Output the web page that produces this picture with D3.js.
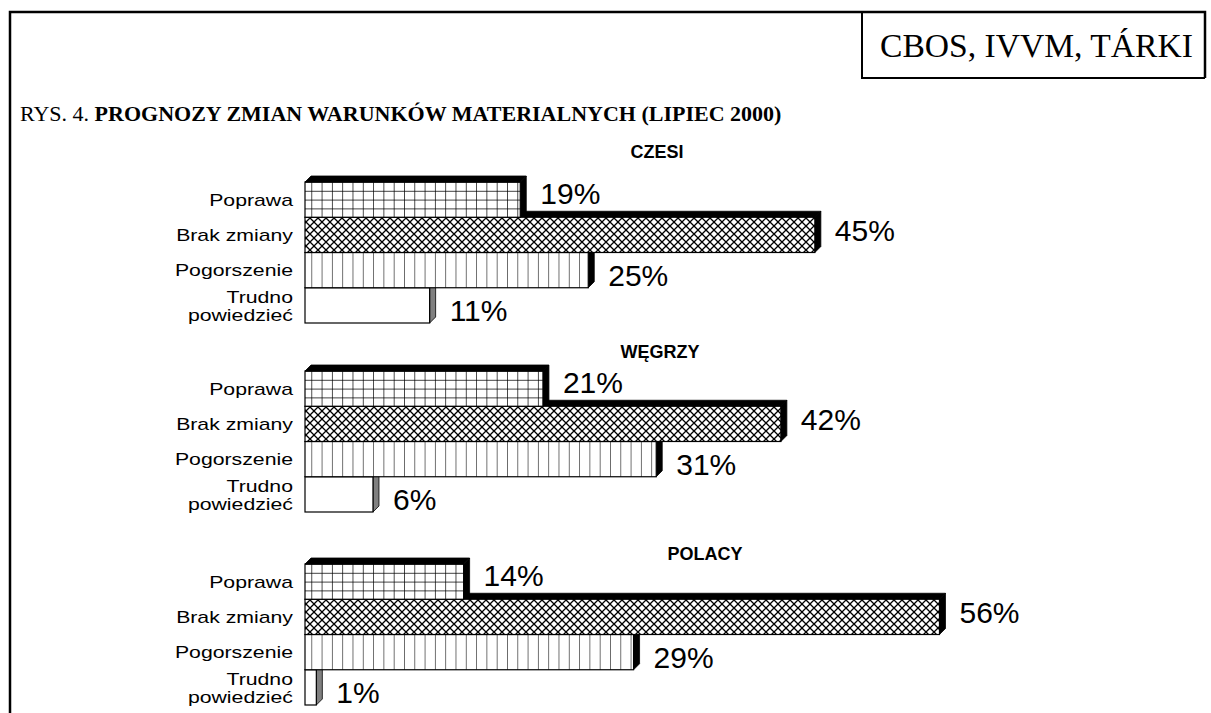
<!DOCTYPE html>
<html>
<head>
<meta charset="utf-8">
<script src="https://cdn.jsdelivr.net/npm/d3@7"></script>
<style>
  body { margin: 0; background: #fff; }
  .cat { font-family: "Liberation Sans", Arial, sans-serif; font-size: 17px; }
  .pct { font-family: "Liberation Sans", Arial, sans-serif; font-size: 30px; }
  .ptitle { font-family: "Liberation Sans", Arial, sans-serif; font-size: 18px; font-weight: bold; }
  .serif { font-family: "Liberation Serif", "Times New Roman", serif; }
</style>
</head>
<body>
<div id="chart"></div>
<script>
// data
const groups = ["CZESI", "WĘGRZY", "POLACY"];
const categories = ["Poprawa", "Brak zmiany", "Pogorszenie", "Trudno powiedzieć"];
const czesi = [19, 45, 25, 11];
const wegrzy = [21, 42, 31, 6];
const polacy = [14, 56, 29, 1];
const seriesByGroup = [czesi, wegrzy, polacy];

const W = 1211, H = 713;
const depth = 6;
const barLeft = 305;
const panelTops = [182, 371, 564];
const panelHeight = 141;
const titleX = [657, 660, 705];
const titleY = [158, 358, 560];
const labelDy = [-6, -5, 5, 5];

const svg = d3.select("#chart").append("svg")
    .attr("width", W)
    .attr("height", H);

// ---------------------------//
//       PATTERNS             //
// ---------------------------//
const defs = svg.append("defs");

const grid = defs.append("pattern")
    .attr("id", "grid").attr("patternUnits", "userSpaceOnUse")
    .attr("x", barLeft).attr("width", 10.3).attr("height", 8.8);
grid.append("rect").attr("width", 10.3).attr("height", 8.8).attr("fill", "#fff");
grid.append("path").attr("d", "M0,0H10.3M0,0V8.8").attr("stroke", "#000").attr("stroke-width", 1.4);

const cross = defs.append("pattern")
    .attr("id", "cross").attr("patternUnits", "userSpaceOnUse")
    .attr("x", barLeft).attr("width", 8).attr("height", 8);
cross.append("rect").attr("width", 8).attr("height", 8).attr("fill", "#fff");
cross.append("path").attr("d", "M0,0L8,8M0,8L8,0").attr("stroke", "#000").attr("stroke-width", 1.3);

const vlines = defs.append("pattern")
    .attr("id", "vlines").attr("patternUnits", "userSpaceOnUse")
    .attr("x", barLeft).attr("width", 10.3).attr("height", 10);
vlines.append("rect").attr("width", 10.3).attr("height", 10).attr("fill", "#fff");
vlines.append("path").attr("d", "M0,0V10").attr("stroke", "#222").attr("stroke-width", 1.3);

const fills = ["url(#grid)", "url(#cross)", "url(#vlines)", "#fff"];
const sideColors = ["#000", "#000", "#000", "#808080"];

// ---------------------------//
//       FRAME AND HEADER     //
// ---------------------------//
svg.append("path")
    .attr("d", `M10,${H}V12H1205V78`)
    .attr("fill", "none").attr("stroke", "#000").attr("stroke-width", 2.5);
svg.append("path")
    .attr("d", "M862,12V78H1205")
    .attr("fill", "none").attr("stroke", "#000").attr("stroke-width", 2);

// stretch/squeeze a text horizontally so it fills a given width
function fitWidth(sel, x0, y0, target) {
    const len = sel.node().getComputedTextLength();
    sel.attr("transform", "translate(" + x0 + "," + y0 + ") scale(" + (target / len) + ",1)");
}

const src = svg.append("text")
    .attr("class", "serif")
    .style("font-size", "34px")
    .text("CBOS, IVVM, TÁRKI");
fitWidth(src, 880, 57, 313);

const head = svg.append("text")
    .attr("class", "serif")
    .style("font-size", "21px");
head.append("tspan").text("RYS. 4. ");
head.append("tspan").style("font-weight", "bold")
    .text("PROGNOZY ZMIAN WARUNKÓW MATERIALNYCH (LIPIEC 2000)");
fitWidth(head, 20, 121, 762);

// ---------------------------//
//       SCALES               //
// ---------------------------//
const x = d3.scaleLinear().domain([0, 100]).range([0, 1133]);
const y = d3.scaleBand().domain(categories).range([0, panelHeight]).padding(0);

// ---------------------------//
//       PANELS               //
// ---------------------------//
groups.forEach(function(g, gi) {
    const values = seriesByGroup[gi];
    const panel = svg.append("g")
        .attr("transform", "translate(" + barLeft + "," + panelTops[gi] + ")");

    svg.append("text")
        .attr("class", "ptitle")
        .attr("x", titleX[gi]).attr("y", titleY[gi])
        .attr("text-anchor", "middle")
        .text(g);

    // draw bottom bar first so upper bars cover the hidden top faces
    const order = d3.range(categories.length).reverse();
    order.forEach(function(i) {
        const c = categories[i];
        const w = x(values[i]);
        const y0 = y(c);
        const h = y.bandwidth();
        const bar = panel.append("g");
        bar.append("path")
            .attr("d", `M0,${y0}L${depth},${y0 - depth}H${w + depth}L${w},${y0}Z`)
            .attr("fill", sideColors[i]).attr("stroke", "#000").attr("stroke-width", 0.8);
        bar.append("path")
            .attr("d", `M${w},${y0}L${w + depth},${y0 - depth}V${y0 + h - depth}L${w},${y0 + h}Z`)
            .attr("fill", sideColors[i]).attr("stroke", "#000").attr("stroke-width", 0.8);
        bar.append("rect")
            .attr("x", 0).attr("y", y0)
            .attr("width", w).attr("height", h)
            .attr("fill", fills[i])
            .attr("stroke", "#000").attr("stroke-width", 1.2);

        panel.append("text")
            .attr("class", "pct")
            .attr("x", w + depth + 14)
            .attr("y", y0 + h / 2 + labelDy[i])
            .attr("dy", "0.36em")
            .text(values[i] + "%");
    });

    // category labels
    categories.forEach(function(c) {
        const words = c === "Trudno powiedzieć" ? ["Trudno", "powiedzieć"] : [c];
        const cy = y(c) + y.bandwidth() / 2;
        words.forEach(function(wd, k) {
            const ty = cy + (k - (words.length - 1) / 2) * 18;
            panel.append("text")
                .attr("class", "cat")
                .attr("text-anchor", "end")
                .attr("transform", "translate(-12," + ty + ") scale(1.25,1)")
                .attr("dy", "0.36em")
                .text(wd);
        });
    });
});
</script>
</body>
</html>
